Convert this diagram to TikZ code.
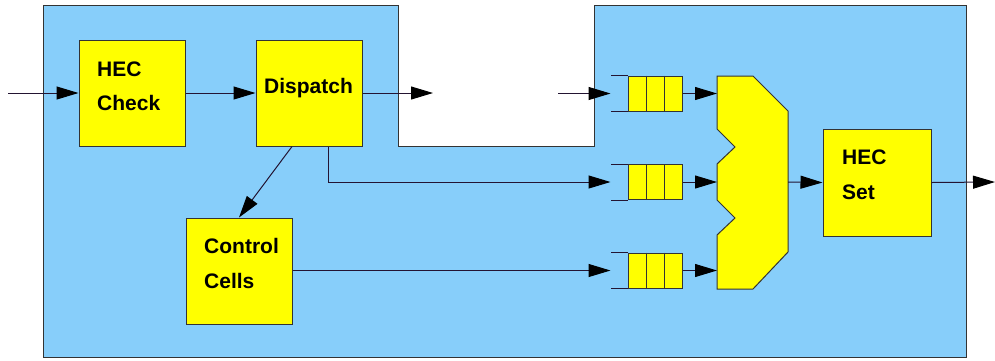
\documentclass[tikz,border=0pt]{standalone}
\usepackage{fontspec}
\setmainfont{Liberation Sans}
\usetikzlibrary{arrows.meta}
\definecolor{bg}{RGB}{135,206,250}
\definecolor{ylw}{RGB}{255,255,0}
\definecolor{edge}{RGB}{51,51,51}
\definecolor{wire}{RGB}{35,20,50}
\begin{document}
\begin{tikzpicture}[x=1pt,y=-1pt,
  box/.style={draw=edge,fill=ylw,line width=1pt,inner sep=0pt,minimum width=106pt,minimum height=106pt},
  qbox/.style={draw=edge,fill=ylw,line width=1pt,inner sep=0pt,minimum width=54pt,minimum height=35pt},
  lbl/.style={anchor=base west,inner sep=0pt,font=\fontsize{21}{24}\selectfont\bfseries},
  wirearrow/.style={draw=wire,line width=1pt,-{Triangle[length=22pt,width=13pt,black]}},
  wireline/.style={draw=wire,line width=1pt},
  thin/.style={draw=edge,line width=1pt}]
\useasboundingbox (0,0) rectangle (995,360);
\fill[white] (0,0) rectangle (995,360);
% background region
\path[fill=bg,draw=edge,line width=1pt] (43,5) -- (398,5) -- (398,146) -- (594,146) -- (594,5) -- (966,5) -- (966,357) -- (43,357) -- cycle;
% boxes
\node[box] (hecc) at (132,93) {};
\node[box] (disp) at (309,93) {};
\node[box] (ctrl) at (239,271) {};
\node[box,minimum width=108pt,minimum height=107pt] (hecs) at (877,182.5) {};
% labels
\node[lbl] (t1) at (97,76) {HEC};
\node[lbl] (t2) at (97,110) {Check};
\node[lbl] (t3) at (264,93) {Dispatch};
\node[lbl] (t4) at (204,253) {Control};
\node[lbl] (t5) at (204,288) {Cells};
\node[lbl] (t6) at (842,164) {HEC};
\node[lbl] (t7) at (842,199) {Set};
% queues
\foreach \n/\y in {q1/93.5,q2/182,q3/270.5}{
  \node[qbox] (\n) at (655,\y) {};
  \draw[thin] ([xshift=-9pt]\n.north) -- ([xshift=-9pt]\n.south);
  \draw[thin] ([xshift=9pt]\n.north) -- ([xshift=9pt]\n.south);
  \draw[wireline] (\n.north west) -- ++(-17,0);
  \draw[wireline] (\n.south west) -- ++(-17,0);
  \coordinate (\n in) at ([xshift=-17pt]\n.west);
}
% multiplexer
\path[fill=ylw,draw=edge,line width=1pt] (717,76) -- (753,76) -- (788,111) -- (788,252) -- (753,289) -- (717,289) -- (717,235) -- (735,218) -- (717,200) -- (717,164) -- (735,147) -- (717,129) -- cycle;
\coordinate (m1) at (717,93.5);
\coordinate (m2) at (717,182);
\coordinate (m3) at (717,270.5);
\coordinate (mout) at (788,182);
% free ends
\coordinate (in) at (8,93);
\coordinate (dout) at (433,93);
\coordinate (qin1) at (558,93.5);
\coordinate (out) at (995,182);
% connectors
\draw[wirearrow] (in) -- (hecc.west);
\draw[wirearrow] (hecc.east) -- (disp.west);
\draw[wirearrow] (disp.east) -- (dout);
\draw[wirearrow] (qin1) -- (q1in);
\draw[wirearrow] ([xshift=-17pt]disp.south) -- (ctrl.north);
\draw[wirearrow] ([xshift=19pt]disp.south) |- (q2in);
\draw[wirearrow] (ctrl.east |- q3in) -- (q3in);
\draw[wirearrow] (q1.east) -- (m1);
\draw[wirearrow] (q2.east) -- (m2);
\draw[wirearrow] (q3.east) -- (m3);
\draw[wirearrow] (mout) -- (hecs.west);
\draw[wirearrow] (hecs.east) -- (out);
\end{tikzpicture}
\end{document}
